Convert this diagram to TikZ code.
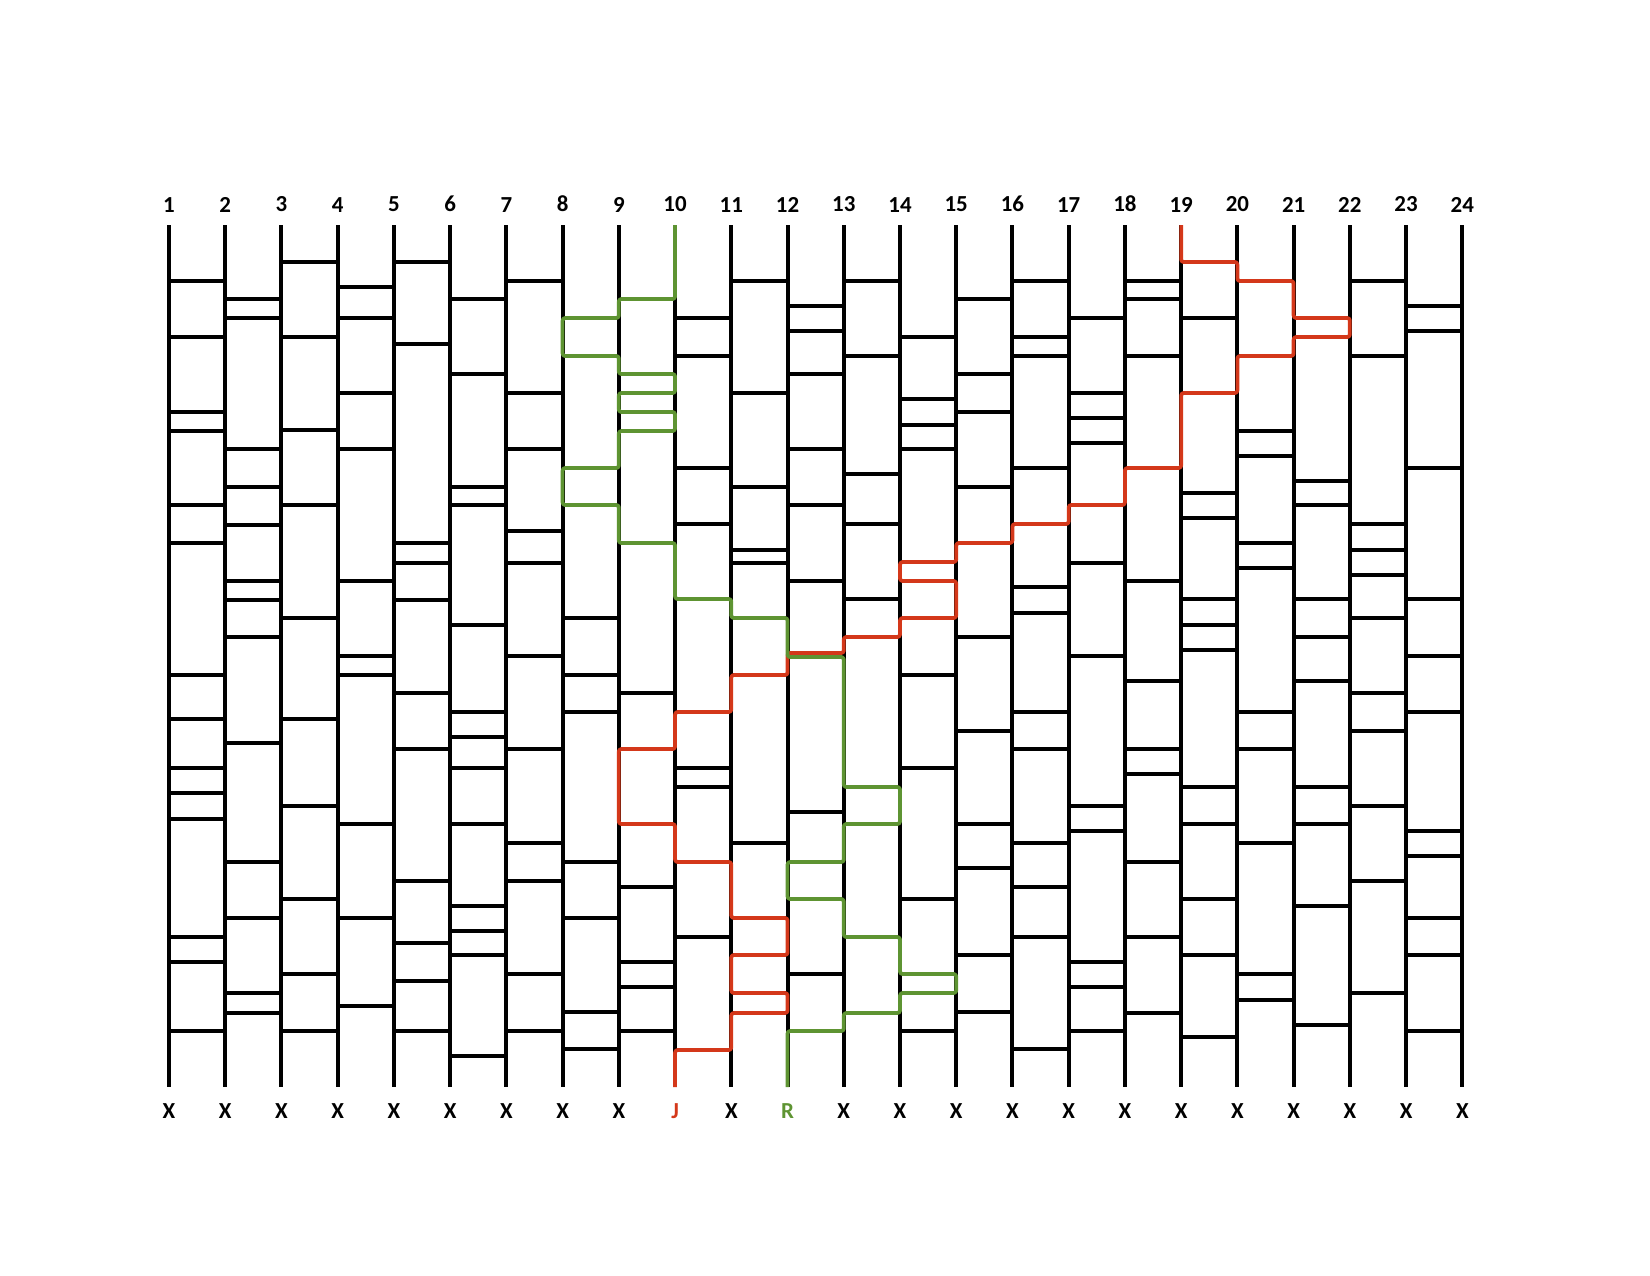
\documentclass[tikz,border=0pt]{standalone}
\usepackage{fontspec}
\setmainfont{Carlito}
\definecolor{pathred}{HTML}{D4381A}
\definecolor{pathgreen}{HTML}{5E9432}
\usetikzlibrary{positioning}
\tikzset{
  leg/.style={line width=1.9pt,black},
  rung/.style={line width=1.5pt,black},
  walk/.style={line width=1.8pt,rounded corners=1.2pt,line join=round},
  num/.style={font=\bfseries\fontsize{11}{13}\selectfont,inner sep=0pt}
}
\begin{document}
\begin{tikzpicture}[x=0.48pt,y=-0.48pt]
  \useasboundingbox (0,0) rectangle (1650,1275);
  % the 24 legs with their numbers and ends
  \foreach \i in {1,...,24} {
    \coordinate (t\i) at (112.77+56.23*\i,225);
    \coordinate (b\i) at (112.77+56.23*\i,1087);
    \draw[leg] (t\i) -- (b\i);
    \node[num,above=6pt of t\i] (n\i) {\i};
  }
  \foreach \i in {1,...,9,11,13,14,...,24}
    \node[num,below=8pt of b\i] (e\i) {X};
  \node[num,below=8pt of b10,text=pathred] (e10) {J};
  \node[num,below=8pt of b12,text=pathgreen] (e12) {R};
  % rungs, gap g joins leg g and leg g+1
  \foreach \g/\ys in {
    1/{281,337,412,431,505,543,675,719,768,793,819,937,962,1031},
    2/{299,318,449,487,525,581,600,637,743,862,918,993,1013},
    3/{262,337,430,505,618,719,806,899,974,1031},
    4/{287,318,393,449,581,656,675,824,918,1006},
    5/{262,344,543,563,600,693,749,881,943,981,1031},
    6/{299,374,487,505,625,712,737,768,824,906,931,955,1056},
    7/{281,393,449,531,563,656,749,843,881,974,1031},
    8/{318,356,468,505,618,675,712,862,918,1012,1049},
    9/{299,374,393,412,431,543,693,749,824,887,962,987,1031},
    10/{318,356,468,524,599,712,768,787,862,937,1050},
    11/{281,393,487,550,563,618,675,843,918,955,993,1013},
    12/{306,331,374,449,505,581,655,812,862,899,974,1031},
    13/{281,356,474,524,599,637,787,824,937,1013},
    14/{337,399,425,449,562,581,618,675,768,899,974,993,1031},
    15/{299,374,412,487,543,637,731,824,868,955,1012},
    16/{281,337,356,468,524,587,613,712,749,843,887,937,1049},
    17/{318,393,418,443,505,563,656,806,831,962,987,1031},
    18/{281,299,356,468,581,681,749,774,862,937,1013},
    19/{262,318,393,493,518,599,625,650,787,824,899,955,1037},
    20/{281,356,431,456,543,568,712,749,843,974,1000},
    21/{318,337,481,505,599,637,681,787,824,906,1025},
    22/{281,356,524,550,575,618,693,731,806,881,993},
    23/{306,331,468,599,656,712,831,856,918,955,1031}} {
    \pgfmathtruncatemacro{\h}{\g+1}
    \foreach \y in \ys
      \draw[rung] (t\g |- 0,\y) -- (t\h |- 0,\y);
  }
  % path from 19 down to J
  \draw[walk,pathred] (t19)
    \foreach \c/\y in {19/262,20/262,20/281,21/281,21/318,22/318,22/337,21/337,
      21/356,20/356,20/393,19/393,19/468,18/468,18/505,17/505,17/524,16/524,
      16/543,15/543,15/562,14/562,14/581,15/581,15/618,14/618,14/637,13/637,
      13/653,12/653,12/675,11/675,11/712,10/712,10/749,9/749,9/824,10/824,
      10/862,11/862,11/918,12/918,12/955,11/955,11/993,12/993,12/1013,11/1013,
      11/1050,10/1050} { -- (t\c |- 0,\y) } -- (b10);
  % path from 10 down to R
  \draw[walk,pathgreen] (t10)
    \foreach \c/\y in {10/299,9/299,9/318,8/318,8/356,9/356,9/374,10/374,
      10/393,9/393,9/412,10/412,10/431,9/431,9/468,8/468,8/505,9/505,9/543,
      10/543,10/599,11/599,11/618,12/618,12/657,13/657,13/787,14/787,14/824,
      13/824,13/862,12/862,12/899,13/899,13/937,14/937,14/974,15/974,15/993,
      14/993,14/1013,13/1013,13/1031,12/1031} { -- (t\c |- 0,\y) } -- (b12);
\end{tikzpicture}
\end{document}
